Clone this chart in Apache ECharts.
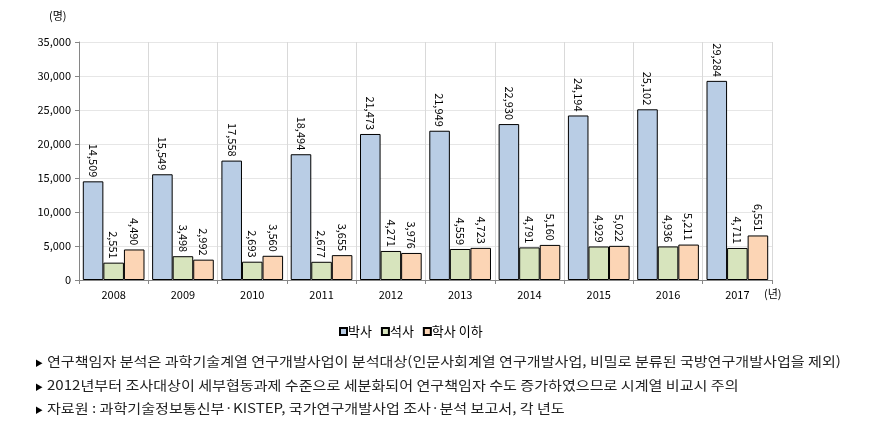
<!DOCTYPE html>
<html>
<head>
<meta charset="utf-8">
<script src="https://cdn.jsdelivr.net/npm/echarts@6/dist/echarts.min.js"></script>
<style>
  html, body { margin: 0; padding: 0; background: #fff; }
  #chart { width: 879px; height: 440px; }
</style>
</head>
<body>
<div id="chart"></div>
<script>
const years = ['2008', '2009', '2010', '2011', '2012', '2013', '2014', '2015', '2016', '2017']
const doctor = [14509, 15549, 17558, 18494, 21473, 21949, 22930, 24194, 25102, 29284]
const master = [2551, 3498, 2693, 2677, 4271, 4559, 4791, 4929, 4936, 4711]
const bachelor = [4490, 2992, 3560, 3655, 3976, 4723, 5160, 5022, 5211, 6551]
const seriesNames = ['박사', '석사', '학사 이하']
const notes = [
  '연구책임자 분석은 과학기술계열 연구개발사업이 분석대상(인문사회계열 연구개발사업, 비밀로 분류된 국방연구개발사업을 제외)',
  '2012년부터 조사대상이 세부협동과제 수준으로 세분화되어 연구책임자 수도 증가하였으므로 시계열 비교시 주의',
  '자료원 : 과학기술정보통신부·KISTEP, 국가연구개발사업 조사·분석 보고서, 각 년도'
]

const font = '"Noto Sans CJK KR", "Noto Sans", sans-serif'
const colors = ['#b9cde5', '#d7e4bd', '#fcd5b5']

const chart = echarts.init(document.getElementById('chart'))

function makeSeries (name, data, color) {
  return {
    name: name,
    type: 'bar',
    data: data,
    barGap: 0,
    barCategoryGap: '11%',
    itemStyle: { color: color, borderColor: '#000', borderWidth: 1 },
    label: {
      show: true,
      position: 'top',
      distance: 4,
      rotate: -90,
      align: 'right',
      verticalAlign: 'middle',
      color: '#000',
      fontSize: 11,
      fontFamily: font,
      formatter: p => p.value.toLocaleString('en-US')
    }
  }
}

const graphics = [
  {
    type: 'text', left: 49, top: 10,
    style: { text: '(명)', fontSize: 11, fontFamily: font, fill: '#000' }
  },
  {
    type: 'text', left: 764, top: 288,
    style: { text: '(년)', fontSize: 11, fontFamily: font, fill: '#000' }
  }
]
notes.forEach((t, i) => {
  graphics.push({
    type: 'text', left: 35, top: 359 + i * 23.5,
    style: { text: '▶', fontSize: 8, fontFamily: font, fill: '#000' }
  })
  // reference font is wider than Noto, stretch a little
  graphics.push({
    type: 'text', x: 47, y: 355 + i * 23.5,
    scaleX: 1.16,
    style: { text: t, fontSize: 13, fontFamily: font, fill: '#222' }
  })
})

chart.setOption({
  animation: false,
  textStyle: { fontFamily: font },
  grid: { left: 79, right: 107, top: 42, bottom: 160, containLabel: false },
  legend: {
    data: seriesNames,
    top: 320,
    left: 334,
    icon: 'rect',
    itemWidth: 7,
    itemHeight: 7,
    itemGap: 9,
    textStyle: { fontSize: 13, fontFamily: font, color: '#000', padding: [0, 0, 0, -4] }
  },
  xAxis: {
    type: 'category',
    data: years,
    axisLine: { lineStyle: { color: '#868686' } },
    axisTick: { show: true, length: 4, lineStyle: { color: '#868686' } },
    axisLabel: { color: '#000', fontSize: 11, margin: 9 },
    splitLine: { show: true, interval: 0, lineStyle: { color: '#d9d9d9' } }
  },
  yAxis: {
    type: 'value',
    min: 0,
    max: 35000,
    interval: 5000,
    axisLine: { show: true, lineStyle: { color: '#868686' } },
    axisTick: { show: true, length: 4, lineStyle: { color: '#868686' } },
    axisLabel: { color: '#000', fontSize: 11, margin: 8, formatter: v => v.toLocaleString('en-US') },
    splitLine: { lineStyle: { color: '#e6e6e6' } }
  },
  graphic: graphics,
  series: [
    makeSeries(seriesNames[0], doctor, colors[0]),
    makeSeries(seriesNames[1], master, colors[1]),
    makeSeries(seriesNames[2], bachelor, colors[2])
  ]
})
</script>
</body>
</html>
